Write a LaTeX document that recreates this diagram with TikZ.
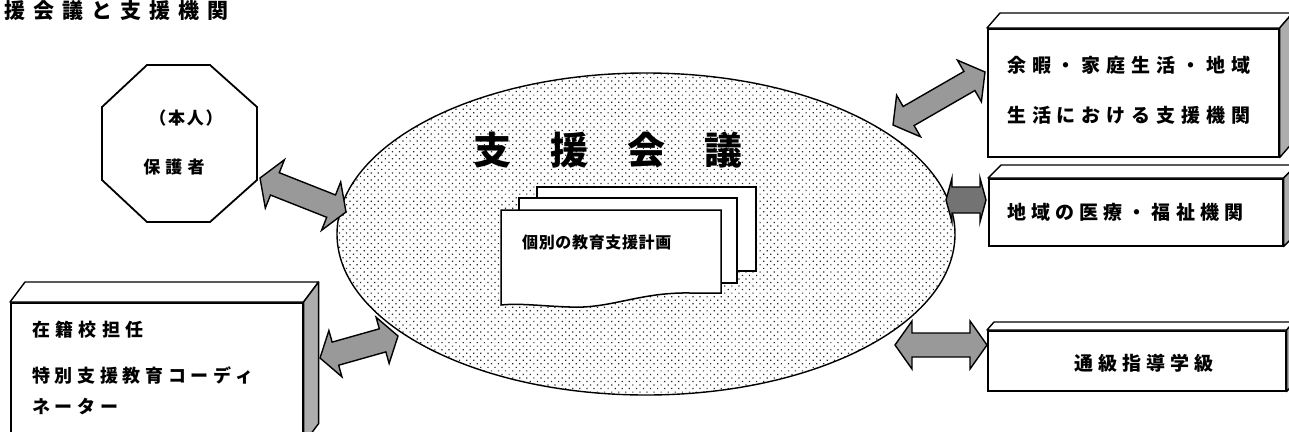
\documentclass[tikz,border=0pt]{standalone}
\usepackage{fontspec}
\newfontfamily\jp{Noto Sans CJK JP}
\usetikzlibrary{calc,patterns.meta}
\newcommand{\fatarrow}[6]{%
  \coordinate (ha) at ($(#1)!#3!(#2)$);
  \coordinate (hb) at ($(#2)!#3!(#1)$);
  \draw[#6] (#1) -- ($(ha)!#4!90:(#2)$) -- ($(ha)!#5!90:(#2)$)
    -- ($(hb)!#5!-90:(#1)$) -- ($(hb)!#4!-90:(#1)$) -- (#2)
    -- ($(hb)!#4!90:(#1)$) -- ($(hb)!#5!90:(#1)$)
    -- ($(ha)!#5!-90:(#2)$) -- ($(ha)!#4!-90:(#2)$) -- cycle;}
\begin{document}
\begin{tikzpicture}[x=1pt,y=-1pt,
  box/.style={draw, line width=1.6pt, fill=white, inner sep=0pt},
  topface/.style={draw, line width=1.4pt, fill=white, line join=round},
  sideface/.style={draw, line width=1.4pt, fill=black!32, line join=round},
  fat/.style={draw, line width=1.4pt, fill=black!40, line join=miter},
  fatdark/.style={draw, line width=1.4pt, fill=black!55, line join=miter},
  paper/.style={draw, line width=1.5pt, fill=white},
  lbl/.style={inner sep=0pt, font={\jp\bfseries\fontsize{19}{19}\selectfont\addfontfeature{LetterSpace=31}}},
  lblm/.style={inner sep=0pt, font={\jp\bfseries\fontsize{18}{18}\selectfont\addfontfeature{LetterSpace=26}}},
]
\useasboundingbox (0,0) rectangle (1289,431);
\fill[white] (0,0) rectangle (1289,431);

% title
\node[anchor=west, inner sep=0pt, font={\jp\bfseries\fontsize{21}{21}\selectfont\addfontfeature{LetterSpace=38}}] (title) at (4,11) {援会議と支援機関};

% central meeting ellipse
\coordinate (mtg) at (646,234);
\path[fill=white] (mtg) ellipse [x radius=309pt, y radius=161pt];
\path[pattern={Dots[distance=5pt, angle=45, radius=0.85pt]}, pattern color=black!85] (mtg) ellipse [x radius=309pt, y radius=161pt];
\draw[line width=1.4pt] (mtg) ellipse [x radius=309pt, y radius=161pt];
\node[inner sep=0pt, font={\jp\bfseries\fontsize{38}{38}\selectfont}] (title2) at (608,150) {支\hspace{39pt}援\hspace{39pt}会\hspace{39pt}議};

% stack of papers
\draw[paper] (537,187) rectangle (756,271);
\draw[paper] (519,198) rectangle (737,283);
\draw[paper] (501,210) -- (721,210) -- (721,293) -- (690,293)
   .. controls (640,292) and (610,309) .. (570,307)
   .. controls (540,306) and (520,303) .. (501,305) -- cycle;
\node[inner sep=0pt, anchor=west, font={\jp\bfseries\fontsize{16}{16}\selectfont\addfontfeature{LetterSpace=4}}] (plan) at (522,242) {個別の教育支援計画};

% octagon: (本人) 保護者
\draw[line width=1.8pt, fill=white] (147,65) -- (210,65) -- (257,107) -- (257,180) -- (210,222) -- (147,222) -- (102,180) -- (102,107) -- cycle;
\coordinate (oct) at (180,143);
\node[lbl, font={\jp\bfseries\fontsize{17}{17}\selectfont\addfontfeature{LetterSpace=10}}] (honnin) at (186,118) {（本人）};
\node[lbl, font={\jp\bfseries\fontsize{17}{17}\selectfont\addfontfeature{LetterSpace=30}}] (hogo) at (174,167) {保護者};

% box: 余暇・家庭生活・地域
\node[box, minimum width=291pt, minimum height=128pt, anchor=north west] (yoka) at (987,28) {};
\draw[topface] (yoka.north west) -- ($(yoka.north west)+(13,-15)$) -- ($(yoka.north east)+(13,-15)$) -- (yoka.north east) -- cycle;
\draw[sideface] (yoka.north east) -- ($(yoka.north east)+(13,-15)$) -- ($(yoka.south east)+(13,-15)$) -- (yoka.south east) -- cycle;
\node[lbl, anchor=west] (yoka1) at (1007,65) {余暇・家庭生活・地域};
\node[lbl, anchor=west] (yoka2) at (1007,115) {生活における支援機関};

% box: 地域の医療・福祉機関
\node[box, minimum width=294pt, minimum height=67pt, anchor=north west] (iryo) at (988,178) {};
\draw[topface] (iryo.north west) -- ($(iryo.north west)+(13,-13)$) -- ($(iryo.north east)+(13,-13)$) -- (iryo.north east) -- cycle;
\draw[sideface] (iryo.north east) -- ($(iryo.north east)+(13,-13)$) -- ($(iryo.south east)+(13,-13)$) -- (iryo.south east) -- cycle;
\node[lbl, anchor=west, font={\jp\bfseries\fontsize{19}{19}\selectfont\addfontfeature{LetterSpace=27}}] (iryot) at (1007,212) {地域の医療・福祉機関};

% box: 通級指導学級
\node[box, minimum width=298pt, minimum height=60pt, anchor=north west] (tsukyu) at (987,330) {};
\draw[topface] (tsukyu.north west) -- ($(tsukyu.north west)+(7,-8)$) -- ($(tsukyu.north east)+(7,-8)$) -- (tsukyu.north east) -- cycle;
\draw[sideface] (tsukyu.north east) -- ($(tsukyu.north east)+(7,-8)$) -- ($(tsukyu.south east)+(7,-8)$) -- (tsukyu.south east) -- cycle;
\node[lbl, font={\jp\bfseries\fontsize{19}{19}\selectfont\addfontfeature{LetterSpace=26}}] (tsukyut) at (1144,363) {通級指導学級};

% box: 在籍校担任
\node[box, minimum width=292pt, minimum height=140pt, anchor=north west] (tannin) at (10,302) {};
\draw[topface] (tannin.north west) -- ($(tannin.north west)+(15,-20)$) -- ($(tannin.north east)+(15,-20)$) -- (tannin.north east) -- cycle;
\draw[sideface] (tannin.north east) -- ($(tannin.north east)+(15,-20)$) -- ($(tannin.south east)+(15,-20)$) -- (tannin.south east) -- cycle;
\node[lbl, anchor=west, font={\jp\bfseries\fontsize{18}{18}\selectfont\addfontfeature{LetterSpace=30}}] (tan1) at (32,330) {在籍校担任};
\node[lblm, anchor=west] (tan2) at (32,375) {特別支援教育コーディ};
\node[lblm, anchor=west] (tan3) at (32,407) {ネーター};

% connectors (double block arrows)
\coordinate (a1s) at (260,178);  \coordinate (a1e) at (346,212);
\fatarrow{a1s}{a1e}{16pt}{26pt}{12pt}{fat}
\coordinate (a2s) at (320,358);  \coordinate (a2e) at (398,336);
\fatarrow{a2s}{a2e}{16pt}{24pt}{12pt}{fat}
\coordinate (a3s) at (893,125);  \coordinate (a3e) at (985,72);
\fatarrow{a3s}{a3e}{18pt}{24pt}{11pt}{fat}
\coordinate (a4s) at (946,200);  \coordinate (a4e) at (986,200);
\fatarrow{a4s}{a4e}{6pt}{22pt}{13pt}{fatdark}
\coordinate (a5s) at (895,345);  \coordinate (a5e) at (987,345);
\fatarrow{a5s}{a5e}{17pt}{24pt}{12pt}{fat}
\end{tikzpicture}
\end{document}
